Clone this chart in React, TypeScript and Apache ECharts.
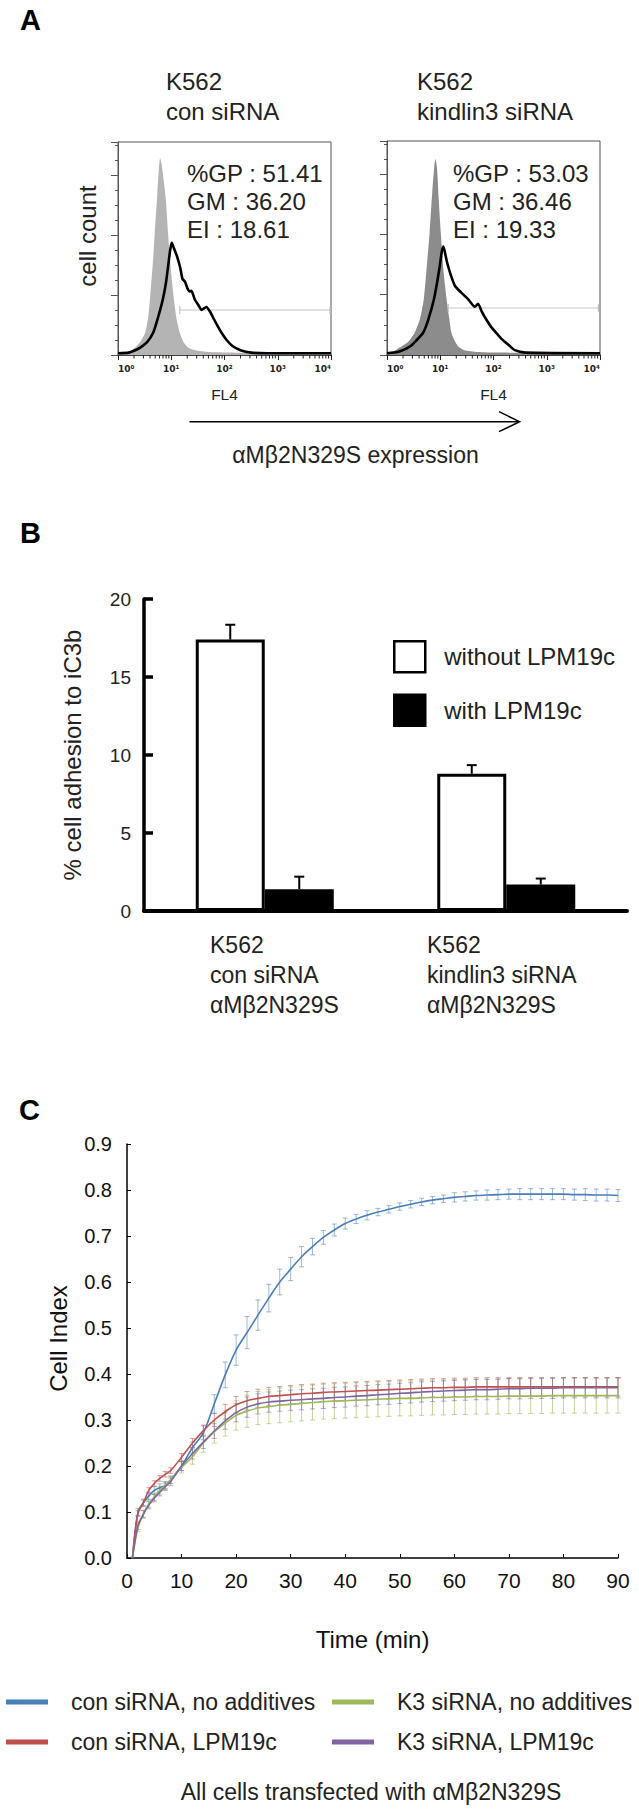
import React, { useEffect, useRef } from 'react';
import * as echarts from 'echarts';

const FONT = "'Liberation Sans', Arial, Helvetica, sans-serif";

// ---------------- Panel A : flow cytometry histograms ----------------
const A_TITLES = ['K562\ncon siRNA', 'K562\nkindlin3 siRNA'];
const A_STATS = ['%GP : 51.41\nGM : 36.20\nEI : 18.61', '%GP : 53.03\nGM : 36.46\nEI : 19.33'];
const A_X_NAME = 'FL4';
const A_Y_NAME = 'cell count';
const A_EXPRESSION = 'αMβ2N329S expression';
const A_TICK_LABELS = ['10⁰', '10¹', '10²', '10³', '10⁴'];
const DECADE_EXPONENTS = [0, 1, 2, 3];
const MINOR_MULTIPLIERS = [2, 3, 4, 5, 6, 7, 8, 9];
// x = log10(FL4 intensity), y = relative cell count
const CON_CONTROL = [[0,0.03],[0.15,0.04],[0.25,0.08],[0.32,0.12],[0.42,0.22],[0.51,0.37],[0.57,0.65],[0.62,1.15],[0.66,1.6],[0.69,2.03],[0.73,2.58],[0.76,3.0],[0.79,3.28],[0.82,3.18],[0.86,2.9],[0.9,2.58],[0.94,2.03],[0.99,1.45],[1.05,0.92],[1.1,0.6],[1.16,0.37],[1.24,0.2],[1.32,0.12],[1.45,0.08],[1.7,0.05],[2.1,0.04],[2.6,0.03],[4,0.02]];
const CON_STAINED = [[0,0.03],[0.2,0.04],[0.3,0.07],[0.41,0.12],[0.55,0.22],[0.66,0.37],[0.75,0.62],[0.84,0.92],[0.9,1.2],[0.94,1.47],[0.98,1.75],[1.01,1.87],[1.05,1.78],[1.11,1.64],[1.17,1.45],[1.21,1.27],[1.26,1.22],[1.3,1.12],[1.35,1.06],[1.38,1.07],[1.44,0.93],[1.51,0.83],[1.57,0.75],[1.62,0.78],[1.66,0.8],[1.73,0.72],[1.8,0.6],[1.88,0.47],[1.96,0.35],[2.04,0.25],[2.15,0.15],[2.3,0.08],[2.5,0.04],[2.8,0.03],[4,0.03]];
const K3_CONTROL = [[0,0.03],[0.12,0.06],[0.27,0.14],[0.4,0.22],[0.52,0.37],[0.62,0.6],[0.69,0.92],[0.75,1.5],[0.8,2.03],[0.85,2.7],[0.89,3.15],[0.91,3.25],[0.94,3.1],[0.97,2.6],[1.01,2.03],[1.06,1.4],[1.12,0.92],[1.17,0.6],[1.21,0.37],[1.28,0.22],[1.34,0.14],[1.45,0.08],[1.7,0.05],[2.1,0.04],[4,0.03]];
const K3_STAINED = [[0,0.03],[0.2,0.05],[0.3,0.08],[0.43,0.14],[0.55,0.24],[0.68,0.37],[0.78,0.6],[0.88,0.92],[0.94,1.2],[0.99,1.47],[1.03,1.72],[1.06,1.8],[1.1,1.65],[1.13,1.53],[1.2,1.32],[1.28,1.14],[1.4,1.03],[1.53,0.92],[1.65,0.8],[1.71,0.85],[1.78,0.72],[1.87,0.58],[1.96,0.46],[2.06,0.36],[2.16,0.26],[2.28,0.17],[2.4,0.08],[2.6,0.04],[4,0.03]];
const CON_GATE = [1.16, 0.75, 3.98];
const K3_GATE = [1.15, 0.78, 3.97];

// ---------------- Panel B : adhesion bars ----------------
const B_CATEGORIES = ['K562\ncon siRNA\nαMβ2N329S', 'K562\nkindlin3 siRNA\nαMβ2N329S'];
const B_SERIES = ['without LPM19c', 'with LPM19c'];
const B_WITHOUT = [17.4, 8.8];
const B_WITHOUT_ERR = [0.95, 0.55];
const B_WITH = [1.4, 1.7];
const B_WITH_ERR = [0.8, 0.38];
const B_Y_NAME = '% cell adhesion to iC3b';

// ---------------- Panel C : cell index time course ----------------
const C_NAMES = ['con siRNA, no additives', 'con siRNA, LPM19c', 'K3 siRNA, no additives', 'K3 siRNA, LPM19c'];
const C_COLORS = ['#4A7EBB', '#C0504D', '#9BBB59', '#8064A2'];
const C_ERR_COLORS = ['rgba(74,126,187,0.55)', 'rgba(192,80,77,0.55)', 'rgba(155,187,89,0.6)', 'rgba(128,100,162,0.55)'];
const TIME = [1,2,3,4,5,6,7,8,10,12,14,16,18,20,22,24,26,28,30,32,34,36,38,40,42,44,46,48,50,52,54,56,58,60,62,64,66,68,70,72,74,76,78,80,82,84,86,88,90];
const CON_NOADD = [0,0.10,0.12,0.135,0.147,0.153,0.158,0.17,0.2,0.24,0.272,0.335,0.398,0.452,0.49,0.528,0.565,0.6,0.628,0.655,0.677,0.697,0.713,0.727,0.737,0.745,0.752,0.758,0.764,0.769,0.774,0.778,0.781,0.784,0.786,0.788,0.789,0.79,0.791,0.791,0.791,0.791,0.791,0.791,0.79,0.79,0.789,0.789,0.788];
const CON_NOADD_ERR = [0,0.008,0.008,0.008,0.008,0.008,0.008,0.008,0.01,0.012,0.015,0.02,0.028,0.033,0.035,0.033,0.03,0.028,0.025,0.022,0.018,0.015,0.013,0.012,0.01,0.01,0.008,0.008,0.008,0.008,0.008,0.008,0.008,0.01,0.01,0.01,0.011,0.011,0.011,0.012,0.012,0.012,0.012,0.012,0.012,0.013,0.013,0.013,0.013];
const CON_LPM = [0,0.097,0.12,0.147,0.162,0.173,0.182,0.19,0.219,0.25,0.277,0.3,0.318,0.333,0.342,0.347,0.351,0.353,0.355,0.357,0.358,0.36,0.361,0.362,0.363,0.364,0.365,0.366,0.367,0.368,0.369,0.37,0.37,0.371,0.371,0.372,0.372,0.372,0.372,0.372,0.372,0.372,0.372,0.372,0.372,0.372,0.372,0.372,0.372];
const CON_LPM_ERR = [0,0.006,0.006,0.006,0.006,0.006,0.006,0.006,0.008,0.01,0.012,0.014,0.016,0.018,0.02,0.02,0.02,0.02,0.02,0.02,0.02,0.02,0.02,0.02,0.02,0.02,0.02,0.02,0.02,0.02,0.02,0.02,0.02,0.02,0.02,0.02,0.02,0.02,0.02,0.02,0.02,0.02,0.02,0.02,0.02,0.02,0.02,0.02,0.02];
const K3_NOADD = [0,0.065,0.096,0.118,0.133,0.147,0.158,0.17,0.197,0.22,0.25,0.274,0.293,0.31,0.319,0.326,0.329,0.332,0.334,0.336,0.338,0.34,0.341,0.342,0.343,0.344,0.345,0.346,0.347,0.347,0.348,0.349,0.349,0.35,0.35,0.351,0.351,0.351,0.352,0.352,0.352,0.352,0.353,0.353,0.353,0.353,0.353,0.353,0.353];
const K3_NOADD_ERR = [0,0.008,0.008,0.008,0.008,0.008,0.008,0.008,0.012,0.016,0.02,0.024,0.028,0.032,0.035,0.036,0.037,0.038,0.038,0.038,0.038,0.038,0.038,0.038,0.038,0.038,0.038,0.038,0.038,0.038,0.038,0.038,0.038,0.038,0.038,0.038,0.038,0.038,0.038,0.038,0.038,0.038,0.038,0.038,0.038,0.038,0.038,0.038,0.038];
const K3_LPM = [0,0.07,0.095,0.115,0.13,0.143,0.155,0.166,0.2,0.227,0.252,0.276,0.298,0.316,0.328,0.335,0.339,0.341,0.343,0.344,0.346,0.347,0.349,0.35,0.352,0.353,0.355,0.356,0.358,0.359,0.361,0.362,0.363,0.364,0.365,0.366,0.366,0.367,0.368,0.368,0.369,0.369,0.369,0.37,0.37,0.37,0.37,0.37,0.37];
const K3_LPM_ERR = [0,0.008,0.008,0.008,0.008,0.008,0.008,0.008,0.01,0.012,0.014,0.016,0.018,0.02,0.022,0.022,0.022,0.022,0.022,0.022,0.022,0.022,0.022,0.022,0.022,0.022,0.022,0.022,0.022,0.022,0.022,0.022,0.022,0.022,0.022,0.022,0.022,0.022,0.022,0.022,0.022,0.022,0.022,0.022,0.022,0.022,0.022,0.022,0.022];
const C_VALUES = [CON_NOADD, CON_LPM, K3_NOADD, K3_LPM];
const C_ERRORS = [CON_NOADD_ERR, CON_LPM_ERR, K3_NOADD_ERR, K3_LPM_ERR];
const C_X_NAME = 'Time (min)';
const C_Y_NAME = 'Cell Index';
const C_FOOTNOTE = 'All cells transfected with αMβ2N329S';

function histX(i: number) {
  return {
    type: 'value', gridIndex: i, min: 0, max: 4, interval: 1,
    name: A_X_NAME, nameLocation: 'middle', nameGap: 31,
    nameTextStyle: { fontSize: 15.5, color: '#222', fontFamily: FONT },
    axisLine: { lineStyle: { color: '#222', width: 1.5 } },
    axisTick: { length: 5, lineStyle: { color: '#222' } },
    splitLine: { show: false },
    axisLabel: {
      margin: 9, alignMinLabel: 'left', alignMaxLabel: 'right',
      formatter: (v: number) => A_TICK_LABELS[Math.round(v)],
      fontSize: 9, fontWeight: 'bold', color: '#222', fontFamily: "'DejaVu Sans', sans-serif",
    },
  };
}

function histY(i: number, named: boolean) {
  return {
    type: 'value', gridIndex: i, min: 0, max: 3.55, interval: 1,
    axisLabel: { show: false }, splitLine: { show: false },
    axisLine: { show: true, lineStyle: { color: '#555', width: 1 } },
    axisTick: { show: true, length: 7, lineStyle: { color: '#555' } },
    minorTick: { show: true, splitNumber: 4, length: 3, lineStyle: { color: '#555' } },
    name: named ? A_Y_NAME : '', nameLocation: 'middle', nameRotate: 90, nameGap: 18.5,
    nameTextStyle: { fontSize: 24, color: '#222', padding: [0, 0, 0, 25], fontFamily: FONT },
  };
}

function histSeries(i: number, control: number[][], stained: number[][], gate: number[], grey: string) {
  return [
    { type: 'line', xAxisIndex: i, yAxisIndex: i, data: control, symbol: 'none', smooth: 0.2, silent: true,
      lineStyle: { width: 0 }, itemStyle: { color: grey }, areaStyle: { color: grey, opacity: 1 }, z: 1 },
    { type: 'custom', xAxisIndex: i, yAxisIndex: i, data: [gate], silent: true, z: 2,
      renderItem: (_p: any, api: any) => {
        const a = api.coord([api.value(0), api.value(1)]);
        const b = api.coord([api.value(2), api.value(1)]);
        const st = { stroke: '#c4c4c4', lineWidth: 1.2 };
        return { type: 'group', children: [
          { type: 'line', shape: { x1: a[0], y1: a[1], x2: b[0], y2: b[1] }, style: st },
          { type: 'line', shape: { x1: a[0], y1: a[1] - 4, x2: a[0], y2: a[1] + 4 }, style: st },
          { type: 'line', shape: { x1: b[0], y1: b[1] - 4, x2: b[0], y2: b[1] + 4 }, style: st },
        ] };
      } },
    { type: 'line', xAxisIndex: i, yAxisIndex: i, data: stained, symbol: 'none', smooth: 0.2, silent: true,
      lineStyle: { width: 2.6, color: '#000' }, itemStyle: { color: '#000' }, z: 3 },
    { type: 'custom', xAxisIndex: i, yAxisIndex: i, data: DECADE_EXPONENTS.map((d) => [d, 0]), silent: true, z: 4, clip: false,
      renderItem: (_p: any, api: any) => {
        const d = api.value(0);
        return { type: 'group', children: MINOR_MULTIPLIERS.map((k) => {
          const p = api.coord([d + Math.log10(k), 0]);
          return { type: 'line', shape: { x1: p[0], y1: p[1], x2: p[0], y2: p[1] + 3.5 }, style: { stroke: '#222', lineWidth: 1 } };
        }) };
      } },
  ];
}

function txt(x: number, y: number, text: string, fontSize: number, extra: any = {}) {
  return { type: 'text', x, y, silent: true,
    style: { text, fontSize, fontFamily: FONT, fill: '#222', align: 'left', verticalAlign: 'middle', ...extra } };
}

export default function App() {
  const ref = useRef<HTMLDivElement>(null);
  useEffect(() => {
    if (!ref.current) return;
    const chart = echarts.init(ref.current, null, { renderer: 'svg' });
    const cSeries: any[] = [];
    C_NAMES.forEach((name, s) => {
      cSeries.push({
        type: 'custom', xAxisIndex: 3, yAxisIndex: 3, silent: true, z: 2,
        data: TIME.map((t, i) => [t, C_VALUES[s][i], C_ERRORS[s][i]]),
        renderItem: (_p: any, api: any) => {
          const e = api.value(2);
          if (!e) return null;
          const x = api.value(0), y = api.value(1);
          const hi = api.coord([x, y + e]);
          const lo = api.coord([x, y - e]);
          const st = { stroke: C_ERR_COLORS[s], lineWidth: 1 };
          return { type: 'group', children: [
            { type: 'line', shape: { x1: hi[0], y1: hi[1], x2: lo[0], y2: lo[1] }, style: st },
            { type: 'line', shape: { x1: hi[0] - 2.5, y1: hi[1], x2: hi[0] + 2.5, y2: hi[1] }, style: st },
            { type: 'line', shape: { x1: lo[0] - 2.5, y1: lo[1], x2: lo[0] + 2.5, y2: lo[1] }, style: st },
          ] };
        },
      });
    });
    C_NAMES.forEach((name, s) => {
      cSeries.push({
        type: 'line', name, xAxisIndex: 3, yAxisIndex: 3, z: 3,
        data: TIME.map((t, i) => [t, C_VALUES[s][i]]),
        symbol: 'none', smooth: 0.3,
        lineStyle: { width: 1.6, color: C_COLORS[s] }, itemStyle: { color: C_COLORS[s] },
      });
    });

    const option: any = {
      animation: false,
      backgroundColor: '#fff',
      textStyle: { fontFamily: FONT },
      grid: [
        { left: 118, top: 142, width: 213, height: 213, show: true, borderColor: '#555', borderWidth: 1 },
        { left: 387, top: 141, width: 213, height: 214, show: true, borderColor: '#555', borderWidth: 1 },
        { left: 144, top: 599, width: 483, height: 312 },
        { left: 127, top: 1144, width: 491, height: 414 },
      ],
      xAxis: [
        histX(0), histX(1),
        { type: 'category', gridIndex: 2, data: B_CATEGORIES,
          axisLine: { lineStyle: { color: '#000', width: 4 } }, axisTick: { show: false }, axisLabel: { show: false } },
        { type: 'value', gridIndex: 3, min: 0, max: 90, interval: 10,
          axisLine: { lineStyle: { color: '#000', width: 1.5 } },
          axisTick: { inside: true, length: 4, lineStyle: { color: '#000' } },
          axisLabel: { fontSize: 21, color: '#111', margin: 12 }, splitLine: { show: false },
          name: C_X_NAME, nameLocation: 'middle', nameGap: 69, nameTextStyle: { fontSize: 24, color: '#111' } },
      ],
      yAxis: [
        histY(0, true), histY(1, false),
        { type: 'value', gridIndex: 2, min: 0, max: 20, interval: 5,
          axisLine: { show: true, lineStyle: { color: '#000', width: 3.5 } },
          axisTick: { show: true, inside: true, length: 9, lineStyle: { color: '#000', width: 3.5 } },
          axisLabel: { fontSize: 19, color: '#222', margin: 13 }, splitLine: { show: false },
          name: B_Y_NAME, nameLocation: 'middle', nameRotate: 90, nameGap: 60,
          nameTextStyle: { fontSize: 24, color: '#222' } },
        { type: 'value', gridIndex: 3, min: 0, max: 0.9, interval: 0.1,
          axisLine: { show: true, lineStyle: { color: '#000', width: 1.5 } },
          axisTick: { show: true, inside: true, length: 4, lineStyle: { color: '#000' } },
          axisLabel: { fontSize: 20, color: '#111', margin: 15, formatter: (v: number) => v.toFixed(1) },
          splitLine: { show: false },
          name: C_Y_NAME, nameLocation: 'middle', nameRotate: 90, nameGap: 57,
          nameTextStyle: { fontSize: 24, color: '#111', padding: [0, 0, 0, 25] } },
      ],
      legend: [
        { data: [
            { name: B_SERIES[0], itemStyle: { color: '#fff', borderColor: '#000', borderWidth: 2.5 } },
            { name: B_SERIES[1], itemStyle: { color: '#000', borderColor: '#000', borderWidth: 2.5 } },
          ],
          orient: 'vertical', left: 393, top: 640, padding: 0, itemWidth: 31, itemHeight: 31, itemGap: 20,
          icon: 'rect', selectedMode: false,
          textStyle: { fontSize: 24, color: '#222', padding: [0, 0, 0, 14], fontFamily: FONT } },
        { data: [C_NAMES[0], C_NAMES[1]], orient: 'vertical', left: 6, top: 1690.5, padding: 0,
          itemWidth: 42, itemHeight: 5, itemGap: 17, icon: 'rect', selectedMode: false,
          textStyle: { fontSize: 23, lineHeight: 23, color: '#222', padding: [0, 0, 0, 18], fontFamily: FONT } },
        { data: [C_NAMES[2], C_NAMES[3]], orient: 'vertical', left: 332, top: 1690.5, padding: 0,
          itemWidth: 42, itemHeight: 5, itemGap: 17, icon: 'rect', selectedMode: false,
          textStyle: { fontSize: 23, lineHeight: 23, color: '#222', padding: [0, 0, 0, 18], fontFamily: FONT } },
      ],
      series: [
        ...histSeries(0, CON_CONTROL, CON_STAINED, CON_GATE, '#b4b4b4'),
        ...histSeries(1, K3_CONTROL, K3_STAINED, K3_GATE, '#8c8c8c'),
        { type: 'bar', name: B_SERIES[0], xAxisIndex: 2, yAxisIndex: 2, data: B_WITHOUT,
          barWidth: 69, barGap: '0%', itemStyle: { color: '#fff', borderColor: '#000', borderWidth: 3 } },
        { type: 'bar', name: B_SERIES[1], xAxisIndex: 2, yAxisIndex: 2, data: B_WITH,
          barWidth: 69, barGap: '0%', itemStyle: { color: '#000', borderColor: '#000', borderWidth: 3 } },
        { type: 'custom', xAxisIndex: 2, yAxisIndex: 2, silent: true, z: 5,
          data: [
            ...B_WITHOUT.map((v, i) => [i, v, B_WITHOUT_ERR[i], -1]),
            ...B_WITH.map((v, i) => [i, v, B_WITH_ERR[i], 1]),
          ],
          renderItem: (_p: any, api: any) => {
            const base = api.coord([api.value(0), api.value(1)]);
            const top = api.coord([api.value(0), api.value(1) + api.value(2)]);
            const x = base[0] + api.value(3) * 34.5;
            const st = { stroke: '#000', lineWidth: 2 };
            return { type: 'group', children: [
              { type: 'line', shape: { x1: x, y1: base[1], x2: x, y2: top[1] }, style: st },
              { type: 'line', shape: { x1: x - 5, y1: top[1], x2: x + 5, y2: top[1] }, style: st },
            ] };
          } },
        ...cSeries,
      ],
      graphic: [
        txt(20, 20, 'A', 29, { fontWeight: 'bold', fill: '#000' }),
        txt(166, 96.6, A_TITLES[0], 24, { lineHeight: 30 }),
        txt(417, 96.6, A_TITLES[1], 24, { lineHeight: 30 }),
        txt(187, 201.6, A_STATS[0], 24, { lineHeight: 28.3 }),
        txt(453, 201.6, A_STATS[1], 24, { lineHeight: 28.3 }),
        { type: 'line', silent: true, shape: { x1: 189.5, y1: 421.7, x2: 519, y2: 421.7 }, style: { stroke: '#000', lineWidth: 1.5 } },
        { type: 'polyline', silent: true, shape: { points: [[499, 411.7], [519.6, 421.7], [499, 431.7]] }, style: { stroke: '#000', lineWidth: 1.5, fill: null } },
        txt(355.5, 455.3, A_EXPRESSION, 23, { align: 'center' }),
        txt(20, 533, 'B', 29, { fontWeight: 'bold', fill: '#000' }),
        txt(210, 975, B_CATEGORIES[0], 23, { lineHeight: 30 }),
        txt(427, 975, B_CATEGORIES[1], 23, { lineHeight: 30 }),
        txt(19, 1110, 'C', 29, { fontWeight: 'bold', fill: '#000' }),
        txt(371, 1792, C_FOOTNOTE, 23, { align: 'center' }),
      ],
    };
    chart.setOption(option);
    return () => chart.dispose();
  }, []);
  return <div ref={ref} style={{ width: 639, height: 1813, position: 'absolute', left: 0, top: 0, background: '#fff' }} />;
}
